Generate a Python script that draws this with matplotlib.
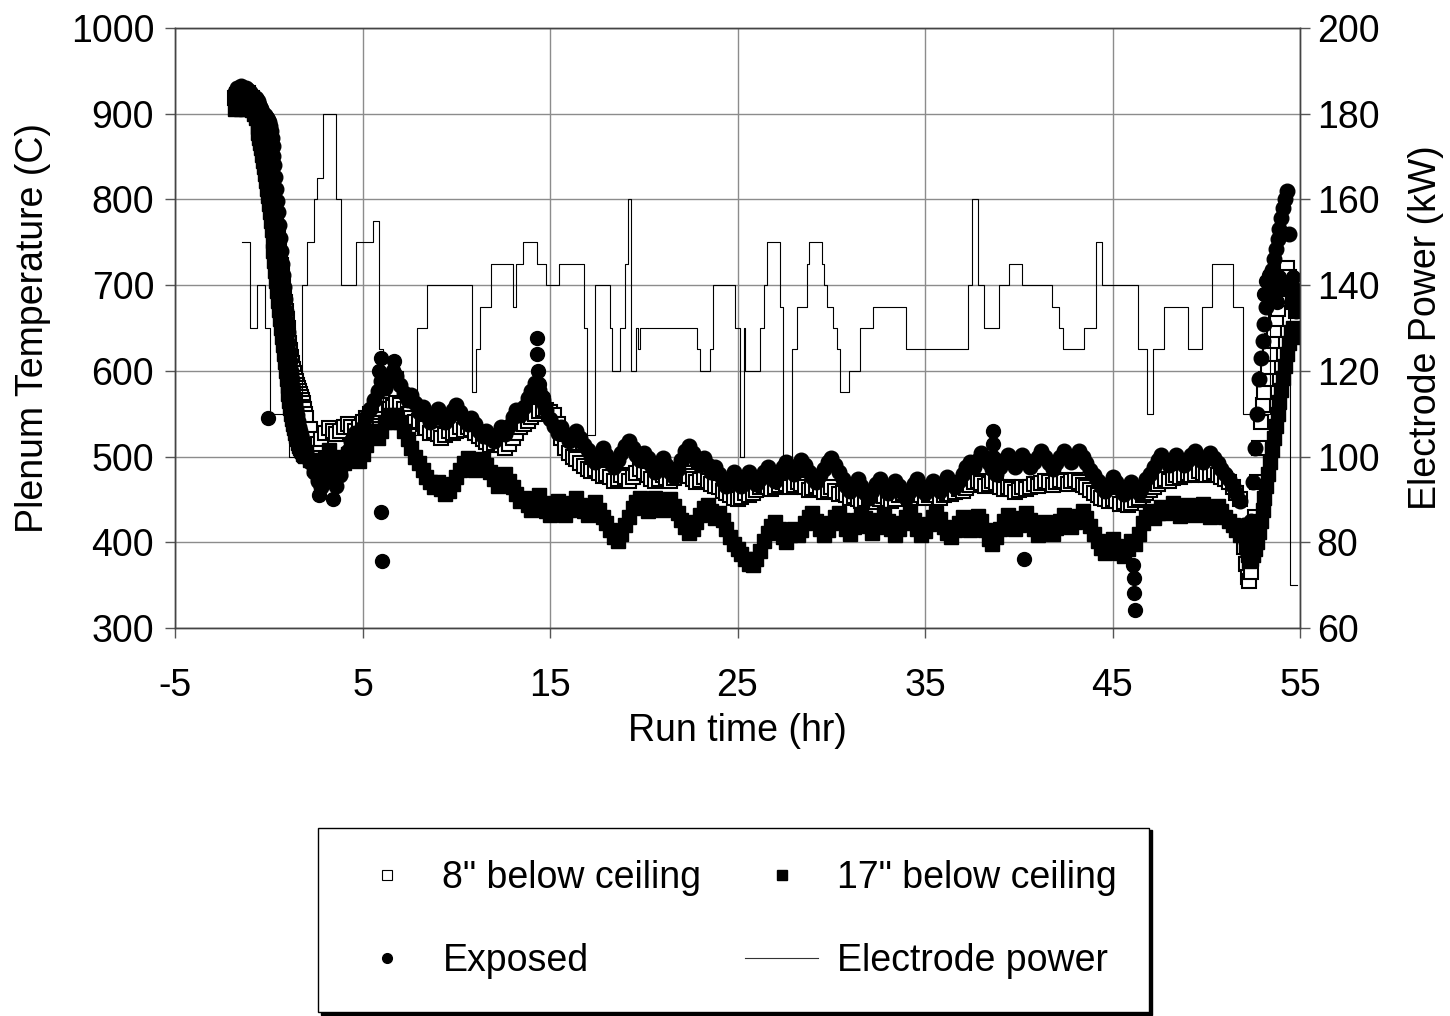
from __future__ import annotations

import matplotlib

matplotlib.use("Agg")
import matplotlib.pyplot as plt
import numpy as np
from matplotlib.lines import Line2D

# logger sampling times (hr): finer during cool-down / shut-down, 12 min in between
TIME_PRE = np.linspace(-1.8, -0.6, 13)
TIME_COOLDOWN = np.linspace(-0.55, 1.95, 51)
TIME_MID = np.linspace(2.0, 51.8, 250)
TIME_END = np.linspace(52.0, 54.8, 29)

TEMP_8IN = [
    # -1.8 .. -0.6
    918, 922, 920, 925, 922, 918, 920, 924, 920, 918, 915, 912, 905,
    # -0.55 .. 1.95
    900, 895, 888, 880, 871, 862, 855, 848, 841, 835, 828, 822, 816, 810, 804, 798, 793, 788, 782, 775,
    767, 758, 747, 735, 724, 712, 701, 690, 680, 670, 660, 650, 641, 632, 624, 616, 609, 602, 597, 592,
    588, 584, 580, 577, 573, 570, 566, 562, 558, 555, 550,
    # 2.0 .. 51.8
    545, 532, 520, 515, 520, 528, 533, 530, 526, 530, 535, 538, 534, 530, 535, 540, 545, 550, 548, 552, 556, 560, 555, 558, 563,
    560, 555, 550, 545, 540, 542, 538, 533, 528, 530, 526, 522, 525, 530, 527, 530, 534, 531, 535, 532, 528, 524, 520, 517, 514,
    516, 520, 514, 510, 515, 522, 528, 534, 538, 542, 546, 550, 553, 556, 554, 552, 548, 538, 522, 510, 504, 500, 497, 493, 489,
    486, 483, 485, 481, 477, 480, 476, 472, 474, 479, 476, 472, 476, 481, 485, 482, 478, 474, 471, 474, 478, 475, 471, 475, 480,
    484, 481, 477, 474, 470, 473, 476, 472, 468, 466, 464, 460, 457, 455, 452, 450, 453, 457, 455, 458, 461, 464, 467, 465, 462,
    464, 467, 470, 468, 465, 467, 470, 468, 464, 461, 463, 466, 462, 459, 461, 464, 460, 456, 458, 455, 452, 454, 451, 448, 450,
    453, 450, 447, 450, 454, 451, 448, 451, 455, 458, 455, 452, 455, 458, 455, 452, 455, 458, 455, 452, 455, 458, 456, 459, 462,
    460, 463, 467, 470, 472, 469, 466, 468, 472, 469, 465, 462, 465, 462, 459, 461, 464, 462, 465, 468, 466, 469, 472, 470, 467,
    470, 473, 471, 468, 471, 473, 470, 467, 464, 461, 458, 455, 452, 450, 448, 451, 448, 445, 447, 444, 446, 449, 452, 455, 458,
    461, 465, 468, 471, 474, 472, 475, 478, 476, 479, 481, 478, 480, 483, 481, 478, 480, 482, 479, 476, 474, 470, 465, 458, 450,
    # 52.0 .. 54.8
    395, 375, 360, 355, 365, 385, 430, 470, 510, 540, 560, 575, 590, 605, 620, 635, 648, 660, 672, 684,
    695, 705, 712, 720, 710, 700, 690, 680, 670,
]

TEMP_17IN = [
    905, 908, 910, 906, 912, 908, 905, 910, 908, 904, 900, 895, 885,
    878, 872, 866, 860, 852, 845, 838, 830, 821, 812, 804, 795, 785, 775, 764, 752, 740, 728, 716, 705,
    693, 682, 671, 660, 650, 640, 630, 620, 610, 600, 591, 582, 573, 565, 557, 550, 544, 538, 533, 528,
    524, 520, 516, 512, 510, 508, 506, 505, 503, 502, 501,
    505, 496, 487, 480, 488, 498, 508, 500, 490, 484, 492, 503, 512, 504, 495, 503, 514, 524, 530, 522, 530, 540, 548, 540, 548,
    540, 530, 520, 510, 500, 492, 484, 476, 470, 464, 470, 462, 456, 460, 468, 476, 484, 492, 498, 492, 484, 490, 497, 490, 482,
    474, 466, 472, 480, 472, 464, 456, 448, 452, 444, 438, 446, 455, 446, 437, 432, 440, 448, 440, 432, 438, 446, 452, 444, 436,
    432, 440, 447, 438, 430, 422, 414, 406, 402, 410, 420, 430, 440, 447, 452, 445, 437, 444, 452, 446, 438, 444, 450, 442, 434,
    426, 418, 411, 416, 424, 432, 440, 444, 436, 428, 434, 426, 416, 406, 398, 392, 386, 380, 375, 374, 380, 390, 401, 411, 419,
    424, 415, 406, 400, 408, 416, 408, 414, 422, 430, 434, 425, 415, 408, 414, 422, 430, 434, 426, 416, 410, 418, 426, 433, 428,
    419, 411, 418, 426, 433, 425, 416, 408, 415, 423, 430, 435, 426, 416, 408, 413, 421, 429, 434, 427, 418, 411, 406, 414, 423,
    430, 422, 414, 422, 431, 425, 414, 404, 398, 406, 416, 425, 432, 424, 415, 420, 428, 434, 426, 416, 408, 415, 424, 418, 410,
    417, 425, 432, 427, 418, 424, 431, 436, 428, 419, 410, 401, 393, 388, 396, 404, 396, 388, 384, 392, 402, 398, 410, 422, 430,
    436, 428, 434, 441, 434, 440, 446, 438, 431, 437, 444, 440, 432, 438, 445, 437, 430, 436, 442, 436, 430, 425, 420, 414, 408,
    410, 395, 385, 378, 380, 385, 392, 400, 412, 425, 438, 452, 466, 480, 494, 508, 522, 536, 550, 564,
    578, 592, 606, 620, 632, 645, 650, 648, 640,
]

TEMP_EXPOSED = [
    925, 930, 928, 932, 930, 926, 930, 928, 925, 922, 920, 918, 915,
    912, 910, 908, 905, 902, 900, 899, 898, 896, 895, 893, 890, 886, 880, 872, 862, 851, 840, 826, 812,
    798, 785, 770, 755, 740, 725, 712, 698, 684, 670, 657, 645, 633, 622, 611, 600, 590, 580, 571, 562,
    555, 548, 541, 535, 530, 525, 520, 515, 512, 510, 507,
    505, 494, 482, 472, 464, 474, 486, 476, 466, 478, 492, 506, 518, 528, 522, 534, 546, 556, 566, 576, 588, 580, 590, 600, 594,
    584, 574, 566, 572, 562, 552, 558, 548, 540, 548, 556, 548, 540, 546, 554, 560, 552, 544, 538, 545, 538, 530, 524, 530, 522,
    518, 526, 534, 526, 536, 546, 554, 548, 558, 568, 576, 586, 578, 566, 554, 544, 536, 528, 534, 526, 518, 525, 530, 522, 514,
    508, 500, 494, 502, 510, 502, 494, 488, 496, 504, 512, 518, 510, 502, 496, 504, 498, 490, 482, 490, 498, 490, 482, 476, 486,
    496, 506, 512, 504, 496, 490, 498, 490, 482, 488, 480, 472, 466, 474, 482, 474, 466, 472, 482, 476, 468, 474, 482, 488, 480,
    472, 480, 488, 494, 486, 480, 488, 496, 490, 482, 476, 470, 478, 486, 494, 498, 490, 482, 474, 466, 460, 468, 474, 466, 458,
    452, 460, 468, 474, 466, 458, 464, 472, 466, 458, 452, 460, 468, 474, 466, 458, 464, 472, 466, 460, 468, 476, 470, 464, 472,
    480, 488, 494, 488, 496, 504, 498, 492, 486, 480, 488, 496, 502, 496, 488, 494, 502, 496, 488, 494, 500, 506, 500, 492, 486,
    492, 500, 506, 500, 494, 500, 506, 500, 492, 484, 478, 472, 466, 460, 468, 476, 470, 462, 456, 462, 470, 464, 458, 466, 474,
    480, 488, 496, 502, 496, 490, 496, 502, 496, 490, 496, 502, 506, 500, 494, 498, 504, 498, 492, 486, 480, 474, 466, 458, 448,
    420, 400, 385, 395, 425, 470, 510, 550, 590, 615, 635, 655, 675, 692, 706, 718, 730, 742, 754, 766,
    778, 790, 800, 810, 760, 700, 680, 690, 670,
]

# short excursions of the exposed thermocouple, off the regular grid
EXPOSED_EXTRA_TIME = [-0.05, 2.7, 3.4, 5.9, 6.0, 6.0, 6.05, 6.6, 6.7, 14.3, 14.3, 14.35, 14.4, 14.6, 14.7,
                      38.6, 38.6, 38.65, 40.3, 46.1, 46.12, 46.15, 46.18, 53.1, 53.2, 53.35, 53.5, 53.6,
                      53.75, 53.9, 54.0, 54.55, 54.65, 54.75, 54.85]
EXPOSED_EXTRA_TEMP = [545, 455, 450, 600, 615, 435, 378, 595, 612, 638, 620, 600, 585, 570, 560,
                      530, 515, 500, 380, 373, 358, 341, 321, 690, 705, 712, 690, 700,
                      680, 710, 695, 700, 710, 675, 690]

# electrode power set points (step starts)
POWER_TIME = [-1.44, -1.0, -0.61, -0.18, 0.07, 1.08, 1.76, 2.02, 2.41, 2.56, 2.89, 3.57, 3.84, 4.64, 5.56,
              5.88, 6.09, 7.0, 7.16, 7.89, 8.42, 10.82, 11.05, 11.27, 11.84, 13.03, 13.19, 13.56, 14.29,
              14.79, 15.50, 16.81, 16.97, 17.42, 18.2, 18.29, 18.73, 19.0, 19.16, 19.30, 19.59, 19.69,
              19.8, 22.82, 23.0, 23.53, 23.71, 24.87, 25.13, 25.35, 25.4, 26.2, 26.41, 26.56, 27.27,
              27.43, 27.91, 28.16, 28.69, 28.81, 29.51, 29.61, 29.76, 30.09, 30.29, 30.47, 30.95, 31.53,
              32.21, 33.99, 37.31, 37.49, 37.83, 38.15, 38.95, 39.48, 40.17, 41.76, 42.15, 42.36, 43.48,
              44.12, 44.42, 46.36, 46.84, 47.16, 47.75, 49.03, 49.77, 50.31, 51.43, 51.96, 53.4, 54.47,
              54.84]
POWER_KW = [150, 130, 140, 130, 110, 100, 140, 150, 160, 165, 180, 160, 140, 150, 155,
            125, 110, 120, 105, 130, 140, 115, 125, 135, 145, 135, 145, 150, 145,
            140, 145, 130, 105, 140, 130, 120, 130, 145, 160, 120, 130, 125,
            130, 125, 120, 125, 140, 130, 100, 130, 120, 130, 140, 150, 135,
            100, 125, 135, 145, 150, 145, 140, 135, 130, 125, 115, 120, 130,
            135, 125, 140, 160, 140, 130, 140, 145, 140, 135, 130, 125, 130,
            150, 140, 125, 110, 125, 135, 125, 135, 145, 135, 110, 140, 70,
            70]

X_TICKS = [-5, 5, 15, 25, 35, 45, 55]
TEMP_TICKS = [300, 400, 500, 600, 700, 800, 900, 1000]
POWER_TICKS = [60, 80, 100, 120, 140, 160, 180, 200]

FONT = ["Liberation Sans", "DejaVu Sans"]
FS = 27


def main() -> int:
    plt.rcParams["font.family"] = FONT
    plt.rcParams["font.size"] = FS
    plt.rcParams["axes.unicode_minus"] = False

    run_time = np.concatenate([TIME_PRE, TIME_COOLDOWN, TIME_MID, TIME_END])

    fig = plt.figure(figsize=(14.5, 10.16), dpi=100)
    ax = fig.add_axes([175 / 1450, 1 - 628 / 1016, 1125 / 1450, 600 / 1016])

    ax.plot(run_time, TEMP_8IN, ls="none", marker="s", ms=9.5, mfc="white", mec="black", mew=1.5, zorder=3)
    ax.plot(run_time, TEMP_17IN, ls="none", marker="s", ms=9.5, color="black", zorder=4)
    ax.plot(run_time, TEMP_EXPOSED, ls="none", marker="o", ms=10.5, color="black", zorder=5)
    ax.plot(EXPOSED_EXTRA_TIME, EXPOSED_EXTRA_TEMP, ls="none", marker="o", ms=10, color="black", zorder=5)

    ax.set_xlim(-5, 55)
    ax.set_ylim(300, 1000)
    ax.set_xticks(X_TICKS)
    ax.set_yticks(TEMP_TICKS)
    ax.grid(True, color="#8c8c8c", lw=1.0)
    ax.set_axisbelow(True)
    ax.set_xlabel("Run time (hr)", labelpad=6)
    ax.set_ylabel("Plenum Temperature (C)", labelpad=14)
    ax.tick_params(axis="both", direction="out", length=7, width=1, color="#555555")
    ax.tick_params(axis="x", pad=22)
    ax.tick_params(axis="y", pad=8)

    ax2 = ax.twinx()
    ax2.step(POWER_TIME, POWER_KW, where="post", color="black", lw=0.8, zorder=6)
    ax2.set_ylim(60, 200)
    ax2.set_yticks(POWER_TICKS)
    ax2.set_ylabel("Electrode Power (kW)", labelpad=21)
    ax2.tick_params(axis="y", direction="out", length=7, width=1, color="#555555", pad=5)

    for a in (ax, ax2):
        for spine in a.spines.values():
            spine.set_color("#444444")
            spine.set_linewidth(1.0)

    handles = [
        Line2D([], [], ls="none", marker="s", ms=7, mfc="white", mec="black", mew=0.8),
        Line2D([], [], ls="none", marker="o", ms=7, color="black"),
        Line2D([], [], ls="none", marker="s", ms=6.5, color="black"),
        Line2D([], [], color="#333333", lw=0.8),
    ]
    labels = ['8" below ceiling', "Exposed", '17" below ceiling', "Electrode power"]
    leg = fig.legend(
        handles,
        labels,
        ncol=2,
        loc="lower left",
        bbox_to_anchor=(318 / 1450, 1 - 1012 / 1016),
        borderaxespad=0,
        frameon=True,
        fancybox=False,
        shadow={"color": "black", "alpha": 1.0},
        edgecolor="black",
        handlelength=1.95,
        handletextpad=0.5,
        columnspacing=1.16,
        labelspacing=1.26,
        borderpad=0.87,
        fontsize=FS,
    )
    leg.get_frame().set_linewidth(1.0)

    fig.savefig("out.png", dpi=100)
    plt.close(fig)
    return 0


if __name__ == "__main__":
    raise SystemExit(main())
